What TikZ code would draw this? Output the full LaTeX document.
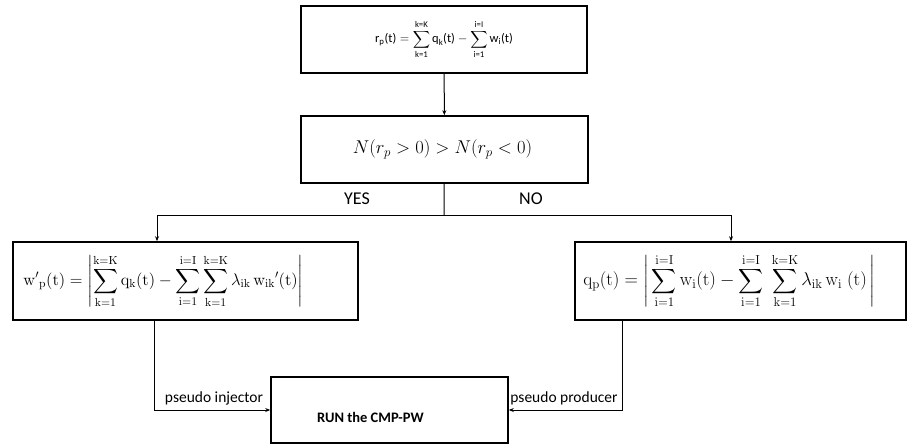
\documentclass[tikz,border=0pt]{standalone}
\usepackage{fix-cm}
\usepackage{amsmath}
\usepackage[no-math]{fontspec}
\setmainfont{Carlito}
\usetikzlibrary{arrows.meta}
\tikzset{
  box/.style={draw, line width=1.6pt, inner sep=0pt},
  conn/.style={line width=1pt},
  arr/.style={conn, -{Stealth[length=5pt,width=4pt]}},
  lab/.style={font=\fontsize{15.5}{18}\selectfont},
  yn/.style={font=\fontsize{18}{21}\selectfont},
}
\newcommand{\tx}[1]{\text{#1}}
\begin{document}
\begin{tikzpicture}[x=1pt,y=-1pt]
\useasboundingbox (0,0) rectangle (909,445);
\node[box, minimum width=286pt, minimum height=67pt, font=\fontsize{12.5}{15}\selectfont] (top) at (444,39.5)
  {$\displaystyle \tx{r}_{\tx{p}}\tx{(t)} = \sum_{\tx{k=1}}^{\tx{k=K}} \tx{q}_{\tx{k}}\tx{(t)} - \sum_{\tx{i=1}}^{\tx{i=I}} \tx{w}_{\tx{i}}\tx{(t)}$};
\node[box, minimum width=287pt, minimum height=67pt, font=\fontsize{18.5}{21}\selectfont] (mid) at (444.5,149.5)
  {$N(r_p > 0) > N(r_p < 0)$\hspace*{4pt}};
\node[box, minimum width=345pt, minimum height=78pt, font=\fontsize{16.7}{19}\selectfont] (left) at (185.5,281)
  {$\displaystyle \mathrm{w'}_{\mathrm{p}}(\mathrm{t}) = \left|\sum_{\mathrm{k=1}}^{\mathrm{k=K}} \mathrm{q}_{\mathrm{k}}(\mathrm{t}) - \sum_{\mathrm{i=1}}^{\mathrm{i=I}}\sum_{\mathrm{k=1}}^{\mathrm{k=K}} \lambda_{\mathrm{ik}}\,\mathrm{w}_{\mathrm{ik}}{}'(\mathrm{t})\right|$\hspace*{44pt}};
\node[box, minimum width=331pt, minimum height=78pt, font=\fontsize{18.5}{21}\selectfont] (right) at (740.5,281)
  {$\displaystyle \mathrm{q}_{\mathrm{p}}(\mathrm{t}) = \left|\,\sum_{\mathrm{i=1}}^{\mathrm{i=I}} \mathrm{w}_{\mathrm{i}}(\mathrm{t}) - \sum_{\mathrm{i=1}}^{\mathrm{i=I}}\;\sum_{\mathrm{k=1}}^{\mathrm{k=K}} \lambda_{\mathrm{ik}}\,\mathrm{w}_{\mathrm{i}}\;(\mathrm{t})\,\right|$\hspace*{22pt}};
\node[box, minimum width=237pt, minimum height=66pt] (bot) at (389.5,410) {};
\node[font=\bfseries\fontsize{14.5}{17}\selectfont, inner sep=0pt] (runtxt) at ([xshift=-19pt,yshift=-7pt]bot.center) {RUN the CMP-PW};
\coordinate (j) at (444,215);
\node[yn] (yes) at (357,199) {YES};
\node[yn] (no) at (531,199) {NO};
\node[lab, anchor=base] (pi) at (214,402) {pseudo injector};
\node[lab, anchor=base] (pp) at (564,402) {pseudo producer};
\draw[arr] (top) -- (mid);
\draw[conn] (mid) -- (j);
\draw[arr] (j) -| ([xshift=-28.5pt]left.north);
\draw[arr] (j) -| ([xshift=-9.5pt]right.north);
\draw[arr] ([xshift=-31.5pt]left.south) |- (bot.west);
\draw[arr] ([xshift=-118.5pt]right.south) |- (bot.east);
\end{tikzpicture}
\end{document}
